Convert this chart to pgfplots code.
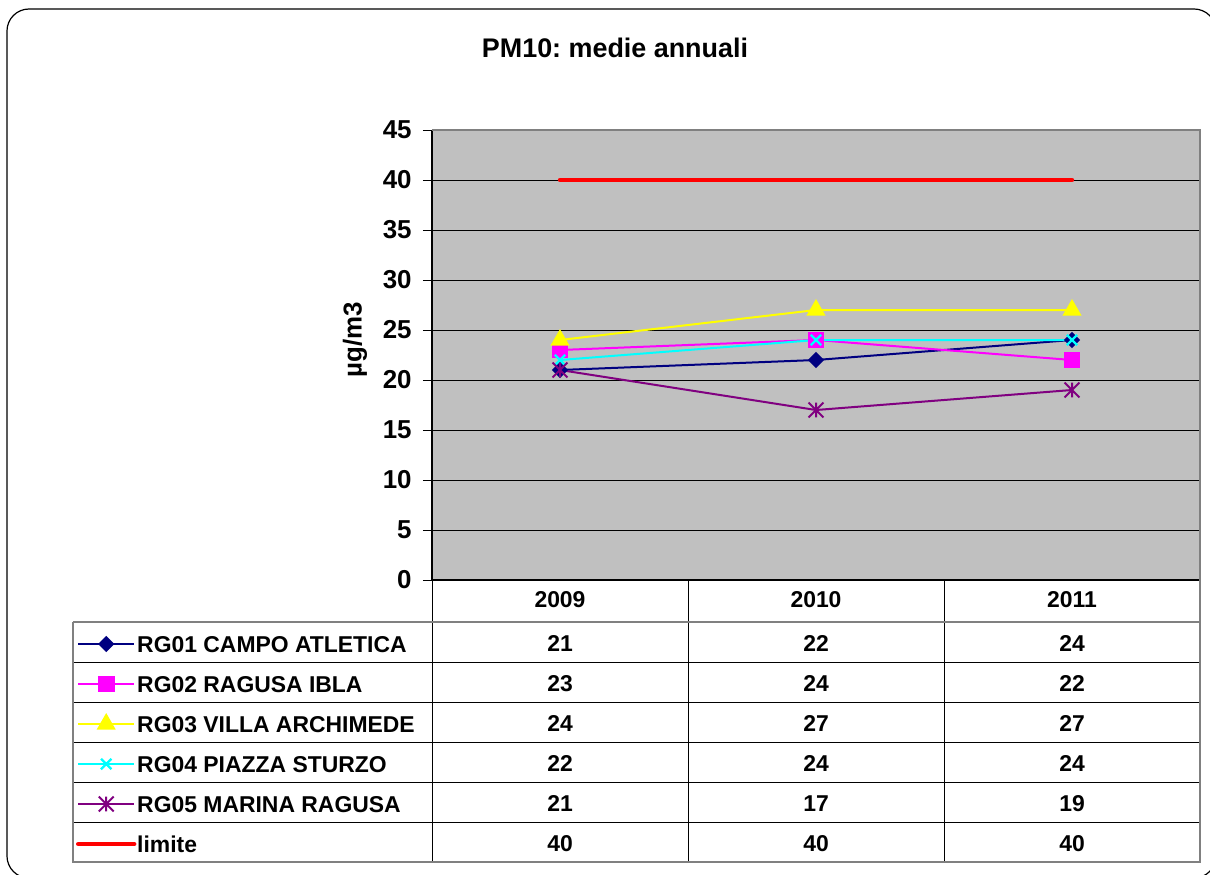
\documentclass[border=0pt]{standalone}
\usepackage{fontspec}
\setmainfont{Liberation Sans}
\usepackage{pgfplots}
\pgfplotsset{compat=1.18}
\definecolor{cPlot}{RGB}{192,192,192}
\definecolor{cEdge}{RGB}{128,128,128}
\definecolor{cRG1}{RGB}{0,0,128}
\definecolor{cRG2}{RGB}{255,0,255}
\definecolor{cRG3}{RGB}{255,255,0}
\definecolor{cRG4}{RGB}{0,255,255}
\definecolor{cRG5}{RGB}{128,0,128}
\newcommand{\tabfont}{\bfseries\fontsize{11.5}{13}\selectfont}
\newcommand{\tickfont}{\bfseries\fontsize{13}{15}\selectfont}
% Excel-style star: an x with a vertical bar through it
\pgfdeclareplotmark{xstar}{%
  \pgfpathmoveto{\pgfqpoint{0pt}{\pgfplotmarksize}}%
  \pgfpathlineto{\pgfqpoint{0pt}{-\pgfplotmarksize}}%
  \pgfpathmoveto{\pgfqpoint{-\pgfplotmarksize}{\pgfplotmarksize}}%
  \pgfpathlineto{\pgfqpoint{\pgfplotmarksize}{-\pgfplotmarksize}}%
  \pgfpathmoveto{\pgfqpoint{-\pgfplotmarksize}{-\pgfplotmarksize}}%
  \pgfpathlineto{\pgfqpoint{\pgfplotmarksize}{\pgfplotmarksize}}%
  \pgfusepathqstroke}

\begin{document}
\frenchspacing
\begin{tikzpicture}[x=0.5bp,y=0.5bp]
\begin{axis}[
    scale only axis, width=384bp, height=225bp,
    xmin=-0.5, xmax=2.5, ymin=0, ymax=45,
    ytick={0,5,...,45}, xtick=\empty,
    axis background/.style={fill=cPlot},
    axis line style={draw=none},
    ymajorgrids, grid style={black, line width=0.5bp},
    tick align=outside, tick pos=left,
    major tick length=4.5bp,
    tick style={black, line width=0.5bp},
    /pgf/number format/assume math mode=true,
    yticklabel style={font=\tickfont, inner sep=0pt, xshift=-5.5bp},
    clip=false,
    legend style={at={(axis description cs:-0.4635,-0.09333)}, anchor=north west,
        draw=none, fill=none, inner sep=0pt, outer sep=0pt, row sep=0pt,
        nodes={inner xsep=0.4bp, inner ysep=0pt, text height=15bp, text depth=5bp},
        font=\tabfont},
    legend cell align=left,
    legend image code/.code={%
        \draw[mark repeat=2, mark phase=2, #1]
        plot coordinates {(0bp,-1bp) (14bp,-1bp) (28bp,-1bp)};},
]
% RG01 CAMPO ATLETICA
\addplot[cRG1, line width=1bp, mark=square*, mark size=2.4bp,
    mark options={solid, fill=cRG1, rotate=45}]
    coordinates {(0,21) (1,22) (2,24)};
\addlegendentry{RG01 CAMPO ATLETICA}
% RG02 RAGUSA IBLA
\addplot[cRG2, line width=1bp, mark=square*, mark size=3.7bp,
    mark options={solid, fill=cRG2}]
    coordinates {(0,23) (1,24) (2,22)};
\addlegendentry{RG02 RAGUSA IBLA}
% RG03 VILLA ARCHIMEDE
\addplot[cRG3, line width=1bp, mark=triangle*, mark size=4.5bp,
    mark options={solid, fill=cRG3}]
    coordinates {(0,24) (1,27) (2,27)};
\addlegendentry{RG03 VILLA ARCHIMEDE}
% RG04 PIAZZA STURZO
\addplot[cRG4, line width=1bp, mark=x, mark size=3.7bp,
    mark options={solid, line width=1.1bp}]
    coordinates {(0,22) (1,24) (2,24)};
\addlegendentry{RG04 PIAZZA STURZO}
% RG05 MARINA RAGUSA
\addplot[cRG5, line width=1bp, mark=xstar, mark size=3.7bp,
    mark options={solid, line width=1bp}]
    coordinates {(0,21) (1,17) (2,19)};
\addlegendentry{RG05 MARINA RAGUSA}
% limite
\addplot[red, line width=2.2bp, line cap=round, mark=none]
    coordinates {(0,40) (1,40) (2,40)};
\addlegendentry{limite}
% plot area border
\draw[black, line width=0.6bp] (rel axis cs:0,1) -- (rel axis cs:0,0) -- (rel axis cs:1,0);
\draw[cEdge, line width=1.1bp] (rel axis cs:0,1) -- (rel axis cs:1,1) -- (rel axis cs:1,0);
\coordinate (O) at (rel axis cs:0,0);
\end{axis}

% everything else in page pixels (origin bottom left), plot area corner at (432,294)
\begin{scope}[shift={(O)}, shift={(-432,-294)}]
\draw[black, line width=0.6bp, rounded corners=11bp] (7,-4) rectangle (1216,865);
\node[font=\bfseries\fontsize{13.5}{15}\selectfont] at (615,826) {PM10: medie annuali};
\node[font=\tickfont, rotate=90] at (355,534) {µg/m3};

% data table
\draw[black, line width=0.5bp] (432,294) -- (432,12) (688,294) -- (688,12) (944,294) -- (944,12);
\foreach \yy in {212,172,132,92,52}
    \draw[black, line width=0.5bp] (73,\yy) -- (1200,\yy);
\draw[cEdge, line width=1bp] (73,252) -- (1200,252);
\draw[cEdge, line width=1bp] (73,252) -- (73,12) -- (1200,12) -- (1200,294);
\foreach \c/\yr in {560/2009, 816/2010, 1072/2011}
    \node[font=\tabfont, anchor=base, inner sep=0pt] at (\c,267) {\yr};
\foreach \yy/\a/\b/\cc in {223/21/22/24, 183/23/24/22, 143/24/27/27,
                          103/22/24/24, 63/21/17/19, 23/40/40/40} {
    \node[font=\tabfont, anchor=base, inner sep=0pt] at (560,\yy) {\a};
    \node[font=\tabfont, anchor=base, inner sep=0pt] at (816,\yy) {\b};
    \node[font=\tabfont, anchor=base, inner sep=0pt] at (1072,\yy) {\cc};
}
\pgfresetboundingbox
\path[use as bounding box] (0,0) rectangle (1210,874);
\end{scope}
\end{tikzpicture}
\end{document}
